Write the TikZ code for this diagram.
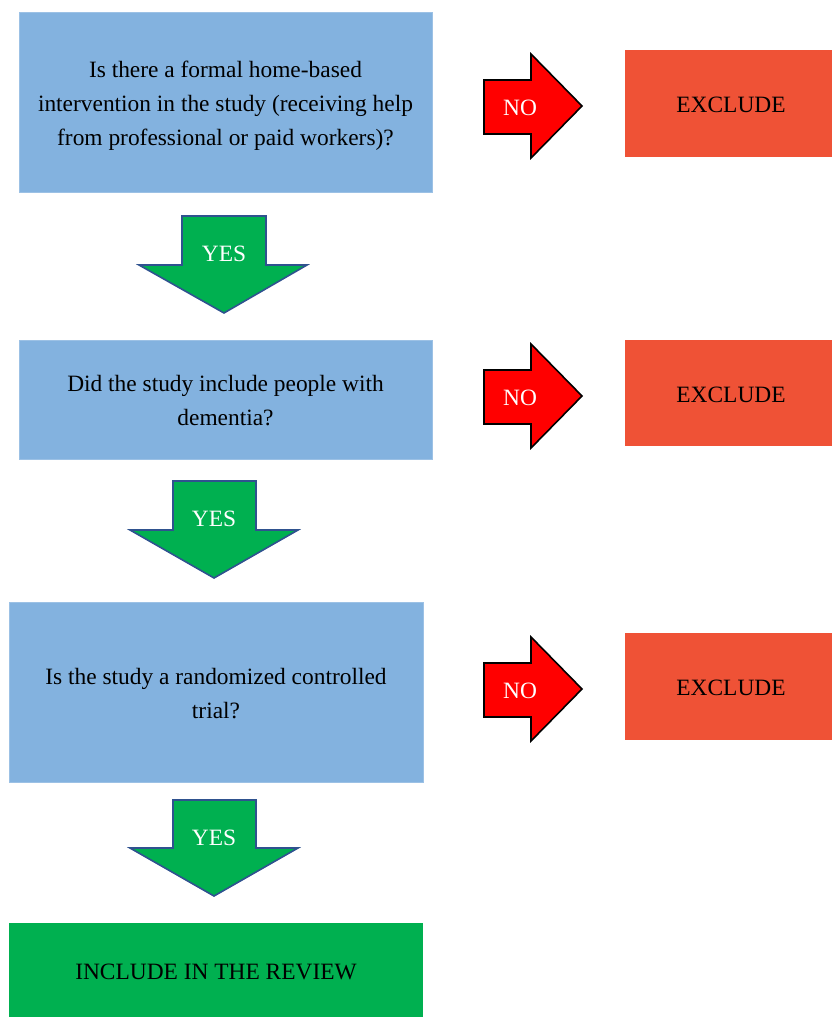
\documentclass[tikz,border=0pt]{standalone}
\usepackage{fontspec}
\setmainfont{Liberation Serif}
\definecolor{qblue}{RGB}{131,178,223}
\definecolor{exred}{RGB}{239,82,54}
\definecolor{incgreen}{RGB}{0,176,80}
\definecolor{yesgreen}{RGB}{0,176,80}
\definecolor{yesedge}{RGB}{47,82,143}
\tikzset{
  qbox/.style={fill=qblue, draw=qblue!80!white, line width=0.6pt},
  exbox/.style={fill=exred},
  incbox/.style={fill=incgreen},
  noarrow/.style={fill=red, draw=black, line width=1.6pt, line join=miter},
  yesarrow/.style={fill=yesgreen, draw=yesedge, line width=1.6pt, line join=miter},
  txt/.style={font=\fontsize{23.4}{34}\selectfont, align=center, text=black},
  wtxt/.style={font=\fontsize{23.4}{28}\selectfont, text=white},
}
\begin{document}
\begin{tikzpicture}[x=1pt,y=-1pt]
\useasboundingbox (0,0) rectangle (832,1017);
% question boxes
\fill[qbox] (19,12) rectangle (432,192);
\node[txt] (q1) at (225.5,106) {Is there a formal home-based\\intervention in the study (receiving help\\from professional or paid workers)?};
\fill[qbox] (19,340) rectangle (432,459);
\node[txt] (q2) at (225.5,401) {Did the study include people with\\dementia?};
\fill[qbox] (9,602) rectangle (423,782);
\node[txt] (q3) at (216,694) {Is the study a randomized controlled\\trial?};
% exclude boxes
\fill[exbox] (625,50) rectangle (832,157);
\node[txt] (e1) at (731,105) {EXCLUDE};
\fill[exbox] (625,340) rectangle (832,446);
\node[txt] (e2) at (731,395) {EXCLUDE};
\fill[exbox] (625,633) rectangle (832,740);
\node[txt] (e3) at (731,688) {EXCLUDE};
% include box
\fill[incbox] (9,923) rectangle (423,1017);
\node[txt] (inc) at (216,972) {INCLUDE IN THE REVIEW};
% NO arrows
\foreach \t/\n in {54/n1,344/n2,637/n3}{
  \draw[noarrow] (484,\t+26) -- (531,\t+26) -- (531,\t) -- (582,\t+52) -- (531,\t+104) -- (531,\t+80) -- (484,\t+80) -- cycle;
  \node[wtxt] (\n) at (520,\t+54) {NO};
}
% YES arrows
\draw[yesarrow] (182,216) -- (266,216) -- (266,265) -- (307,265) -- (224,313) -- (139,265) -- (182,265) -- cycle;
\node[wtxt] (y1) at (224,254) {YES};
\draw[yesarrow] (173,481) -- (256,481) -- (256,530) -- (298,530) -- (214,578) -- (130,530) -- (173,530) -- cycle;
\node[wtxt] (y2) at (214,519) {YES};
\draw[yesarrow] (173,800) -- (256,800) -- (256,848) -- (298,848) -- (214,896) -- (130,848) -- (173,848) -- cycle;
\node[wtxt] (y3) at (214,838) {YES};
\end{tikzpicture}
\end{document}
